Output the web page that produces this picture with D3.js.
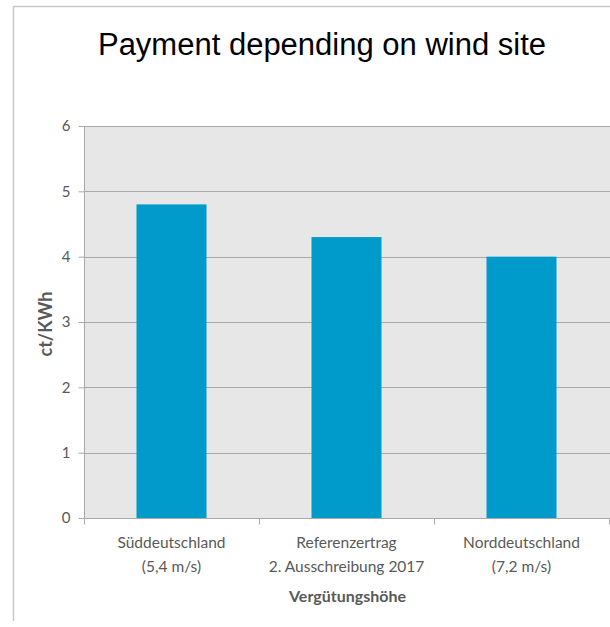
<!DOCTYPE html>
<html><head><meta charset="utf-8">
<script src="https://cdn.jsdelivr.net/npm/d3@7"></script>
<style>body{margin:0;background:#fff}svg{display:block}</style>
</head><body>
<svg id="c" width="610" height="627"></svg>
<script>
const categories = [["Süddeutschland","(5,4 m/s)"],["Referenzertrag","2. Ausschreibung 2017"],["Norddeutschland","(7,2 m/s)"]];
const values = [4.8, 4.3, 4.0];
const yTicks = [0,1,2,3,4,5,6];
const title = "Payment depending on wind site";
const yTitle = "ct/KWh";
const xTitle = "Vergütungshöhe";

const svg = d3.select("#c");
const font = "Lato, 'Open Sans', sans-serif";
const L = 84, R = 609, T = 126, B = 518;

// frame
svg.append("line").attr("x1",13.5).attr("x2",610).attr("y1",6.5).attr("y2",6.5).attr("stroke","#c8c8c8").attr("stroke-width",1.5);
svg.append("line").attr("x1",13.5).attr("x2",13.5).attr("y1",6).attr("y2",621).attr("stroke","#c8c8c8").attr("stroke-width",1.5);

svg.append("text").attr("x",322).attr("y",55).attr("text-anchor","middle")
  .attr("font-family","'Liberation Sans', Arial, sans-serif").attr("font-size",31).attr("fill","#000").text(title);

const x = d3.scaleBand().domain(categories.map(d=>d[0])).range([L,R]).paddingInner(0.6).paddingOuter(0.3);
const y = d3.scaleLinear().domain([0,6]).range([B,T]);

svg.append("rect").attr("x",L).attr("y",T).attr("width",610-L).attr("height",B-T).attr("fill","#e7e7e7");

const g = svg.append("g");
g.selectAll("line.grid").data(yTicks.filter(d=>d>0)).join("line").attr("class","grid")
  .attr("x1",L).attr("x2",610).attr("y1",d=>Math.round(y(d))+0.5).attr("y2",d=>Math.round(y(d))+0.5)
  .attr("stroke","#a9a9a9").attr("stroke-width",1);

g.selectAll("rect.bar").data(values).join("rect").attr("class","bar")
  .attr("x",(d,i)=>x(categories[i][0])).attr("width",x.bandwidth())
  .attr("y",d=>y(d)).attr("height",d=>y(0)-y(d)).attr("fill","#019bcb");

// y axis
const ya = svg.append("g").attr("transform",`translate(${L+0.5},0)`)
  .call(d3.axisLeft(y).tickValues(yTicks).tickSize(6).tickPadding(8).tickFormat(d3.format("d")));
ya.select(".domain").attr("stroke","#a9a9a9").attr("d",`M0,${T}V${B}`);
ya.selectAll(".tick line").attr("stroke","#a9a9a9");
ya.selectAll(".tick text").attr("font-family",font).attr("font-size",15).attr("fill","#595959");

// x axis
const xa = svg.append("g").attr("transform",`translate(0,${B+0.5})`);
xa.append("line").attr("x1",L).attr("x2",610).attr("stroke","#a9a9a9");
const bounds = categories.map(d=>x(d[0]) - x.step()*x.paddingInner()/2).concat([R]);
bounds[0] = L;
xa.selectAll("line.tk").data(bounds).join("line").attr("class","tk")
  .attr("x1",d=>Math.round(d)+0.5).attr("x2",d=>Math.round(d)+0.5).attr("y1",0).attr("y2",6).attr("stroke","#a9a9a9");
categories.forEach((c,i)=>{
  const cx = x(c[0]) + x.bandwidth()/2;
  const t = xa.append("text").attr("text-anchor","middle").attr("font-family",font).attr("font-size",15.5).attr("fill","#595959");
  t.append("tspan").attr("x",cx).attr("y",29).text(c[0]);
  t.append("tspan").attr("x",cx).attr("y",53).text(c[1]);
});

svg.append("text").attr("x",(L+R)/2+1).attr("y",602).attr("text-anchor","middle").attr("font-family",font)
  .attr("font-weight","bold").attr("font-size",16).attr("fill","#595959").text(xTitle);
svg.append("text").attr("transform",`translate(52,${(T+B)/2+2}) rotate(-90)`).attr("text-anchor","middle").attr("font-family",font)
  .attr("font-weight","bold").attr("font-size",18).attr("fill","#595959").text(yTitle);
</script>
</body></html>
